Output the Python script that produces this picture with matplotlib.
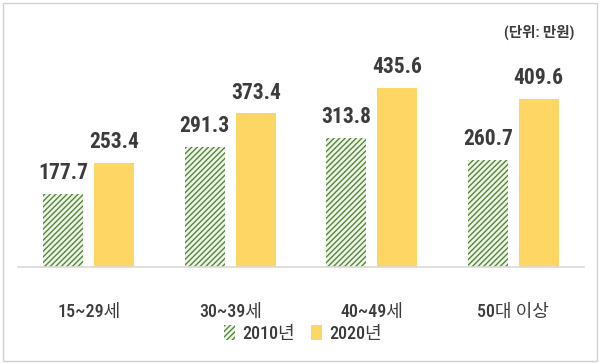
import numpy as np
import matplotlib.pyplot as plt
from matplotlib.patches import Rectangle

plt.rcParams['font.family'] = ['Roboto Condensed', 'Noto Sans CJK KR', 'DejaVu Sans']
plt.rcParams['hatch.linewidth'] = 1.0

categories = ['15~29세', '30~39세', '40~49세', '50대 이상']
series_names = ['2010년', '2020년']
vals_2010 = [177.7, 291.3, 313.8, 260.7]
vals_2020 = [253.4, 373.4, 435.6, 409.6]

txt = '#3c3c3c'
fig = plt.figure(figsize=(6.0, 3.64), dpi=100)
ax = fig.add_axes([18 / 600, 1 - 267 / 364, (584 - 18) / 600, (267 - 40) / 364])

x = np.arange(len(categories))
w = 0.283
off = 0.18
b1 = ax.bar(x - off, vals_2010, w, facecolor='#eef5e8', edgecolor='#55883a',
            hatch='//////', linewidth=0, label=series_names[0])
b2 = ax.bar(x + off, vals_2020, w, color='#fdd663', label=series_names[1])

for bars in (b1, b2):
    for r in bars:
        ax.text(r.get_x() + r.get_width() / 2, r.get_height() + 24,
                f'{r.get_height():.1f}', ha='center', va='bottom',
                fontsize=15.5, fontweight='bold', color=txt)

ax.set_xlim(-0.5, 3.5)
ax.set_ylim(0, 552)
for s in ['top', 'right', 'left']:
    ax.spines[s].set_visible(False)
ax.spines['bottom'].set_color('#d9d9d9')
ax.spines['bottom'].set_linewidth(1.2)
ax.set_yticks([])
ax.set_xticks(x)
ax.set_xticklabels(categories, fontsize=13, color=txt, fontweight='medium')
ax.tick_params(axis='x', length=0, pad=26)

fig.legend(handles=[b1, b2], loc='center', bbox_to_anchor=(303 / 600, 1 - 334 / 364),
           ncol=2, frameon=False, prop={'size': 13, 'weight': 'medium'},
           labelcolor=txt, handlelength=0.6, handleheight=0.9,
           handletextpad=0.4, columnspacing=0.9)

fig.text(574 / 600, 1 - 32 / 364, '(단위: 만원)', ha='right', va='center',
         fontsize=10.5, fontweight='bold', color=txt)

fig.patches.append(Rectangle((3 / 600, 3 / 364), 594 / 600, 358 / 364,
                             transform=fig.transFigure, fill=False,
                             edgecolor='#d0d0d0', linewidth=1))

fig.savefig('out.png', dpi=100)
